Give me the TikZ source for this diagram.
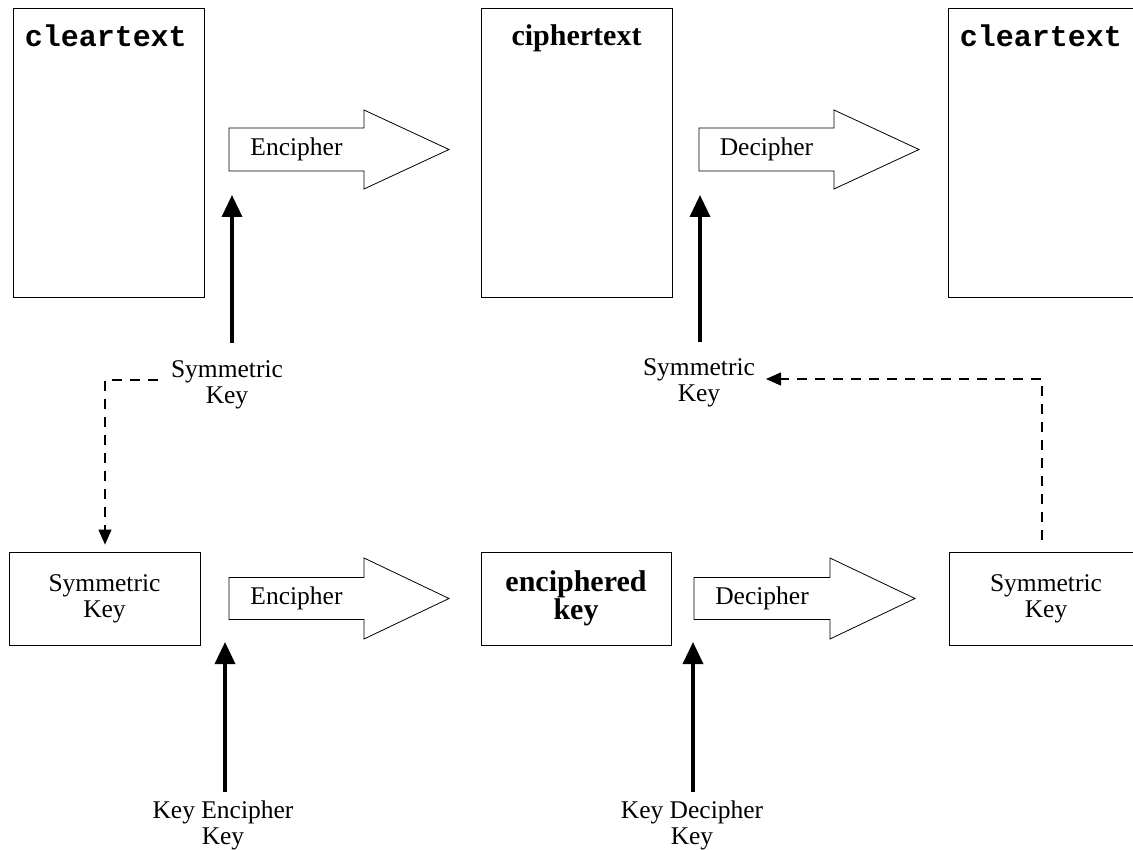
\documentclass[tikz,border=0pt]{standalone}
\usepackage{fontspec}
\setmainfont{Liberation Serif}
\newfontfamily\courfont{Liberation Mono}
\newfontfamily\gothfont{Liberation Serif}[BoldFont={* Bold}]
\usetikzlibrary{arrows.meta}
\newcommand\bigHollow[6]{% x0, xh, xt, yc, half shaft, half head
  \draw[hollow] (#1,#4-#5) -- (#2,#4-#5) -- (#2,#4-#6) -- (#3,#4) -- (#2,#4+#6) -- (#2,#4+#5) -- (#1,#4+#5) -- cycle;}
\begin{document}
\begin{tikzpicture}[x=1pt,y=-1pt,
  box/.style={draw, line width=0.9pt, inner sep=0pt},
  lbl/.style={font=\fontsize{25.5}{26}\selectfont, align=center, inner sep=0pt},
  cleart/.style={font=\courfont\bfseries\fontsize{30}{30}\selectfont, inner sep=0pt},
  goth/.style={font=\gothfont\bfseries\fontsize{30}{23}\selectfont, align=center, inner sep=0pt},
  bigarrow/.style={line width=3.5pt, -{Triangle[length=22pt,width=20pt]}},
  dasharrow/.style={line width=1.2pt, dash pattern=on 10pt off 8pt, -{Triangle[length=15pt,width=13pt]}},
  hollow/.style={draw, line width=0.8pt, fill=white, line join=miter}]
\useasboundingbox (0,0) rectangle (1133,850);
\clip (0,0) rectangle (1133,850);

% top row boxes
\node[box, minimum width=191pt, minimum height=289pt] (ct1) at (108.5,152.5) {};
\node[box, minimum width=191pt, minimum height=289pt] (ct2) at (576.5,152.5) {};
\node[box, minimum width=191pt, minimum height=289pt] (ct3) at (1043.5,152.5) {};
\node[cleart, anchor=base west] (t1) at ([xshift=12pt,yshift=-39pt]ct1.north west) {cleartext};
\node[goth, anchor=base] (t2) at ([yshift=-38pt]ct2.north) {ciphertext};
\node[cleart, anchor=base west] (t3) at ([xshift=12pt,yshift=-39pt]ct3.north west) {cleartext};

% top hollow arrows
\bigHollow{229}{364}{449}{149.5}{21.5}{39.5}
\node[lbl] (enc1) at (296.5,149.5) {Encipher};
\bigHollow{699}{834}{919}{149.5}{21.5}{39.5}
\node[lbl] (dec1) at (766.5,149.5) {Decipher};

% top key labels
\node[lbl] (sk1) at (227,385) {Symmetric\\Key};
\node[lbl] (sk2) at (699,383) {Symmetric\\Key};
\coordinate (a1s) at (232,343);
\coordinate (a1e) at (232,195);
\coordinate (a2s) at (700,342);
\coordinate (a2e) at (700,195);
\draw[bigarrow] (a1s) -- (a1e);
\draw[bigarrow] (a2s) -- (a2e);

% bottom row boxes
\node[box, minimum width=191pt, minimum height=93pt] (sk3) at (104.5,598.5) {};
\node[lbl] at (sk3.center) {Symmetric\\Key};
\node[box, minimum width=190pt, minimum height=93pt] (ek) at (576,598.5) {};
\node[goth] (ekt) at (ek.center) {enciphered\\key};
\node[box, minimum width=194pt, minimum height=93pt] (sk6) at (1046,598.5) {};
\node[lbl] at (sk6.center) {Symmetric\\Key};

% bottom hollow arrows
\bigHollow{229}{364}{449}{598.5}{21}{40.5}
\node[lbl] (enc2) at (296.5,598.5) {Encipher};
\bigHollow{694}{830}{915}{598.5}{21}{40.5}
\node[lbl] (dec2) at (762,598.5) {Decipher};

% dashed transfers
\coordinate (d1s) at (158,380);
\coordinate (d1c) at (105,380);
\draw[dasharrow] (d1s) -- (d1c) -- ([yshift=7pt]sk3.north -| d1c);
\coordinate (d2s) at (1042,540);
\coordinate (d2c) at (1042,379);
\coordinate (d2e) at (766,379);
\draw[dasharrow] (d2s) -- (d2c) -- (d2e);

% bottom key labels
\node[lbl] (kek) at (223,825) {Key Encipher\\Key};
\node[lbl] (kdk) at (692,825) {Key Decipher\\Key};
\coordinate (b1s) at (225,792);
\coordinate (b1e) at (225,642);
\coordinate (b2s) at (693,792);
\coordinate (b2e) at (693,642);
\draw[bigarrow] (b1s) -- (b1e);
\draw[bigarrow] (b2s) -- (b2e);
\end{tikzpicture}
\end{document}
